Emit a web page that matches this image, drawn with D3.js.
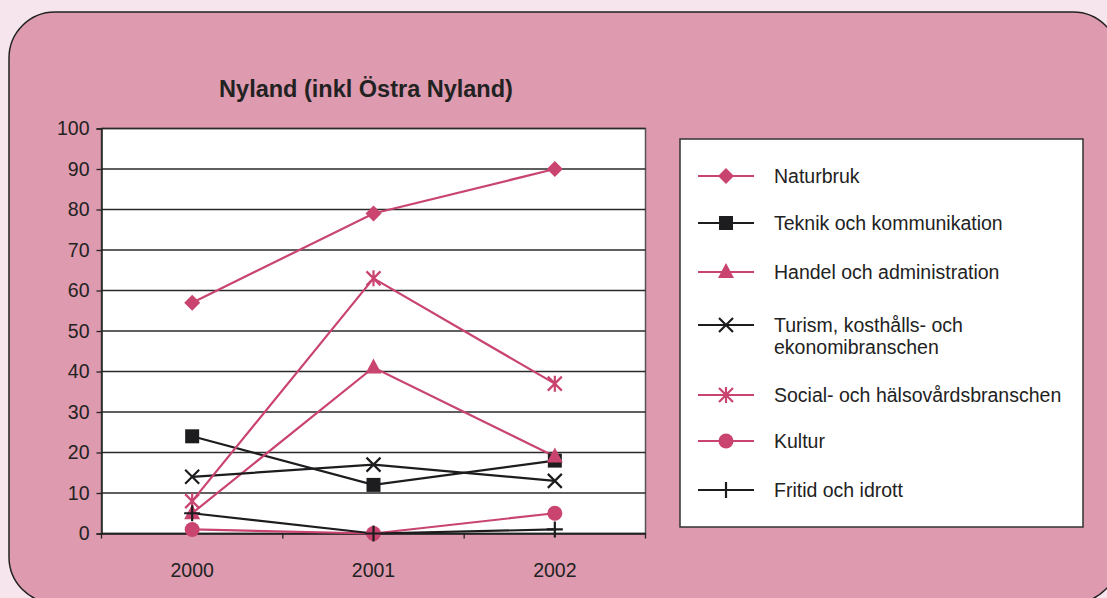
<!DOCTYPE html>
<html><head><meta charset="utf-8">
<script src="https://cdn.jsdelivr.net/npm/d3@7"></script>
<style>html,body{margin:0;padding:0;background:#f6e5ec;}svg{display:block;}</style>
</head><body><svg id="c" width="1107" height="598"></svg>
<script>
const title = "Nyland (inkl Östra Nyland)";
const years = ["2000", "2001", "2002"];
const yTicks = [0,10,20,30,40,50,60,70,80,90,100];
const seriesNames = ["Naturbruk","Teknik och kommunikation","Handel och administration","Turism, kosthålls- och\nekonomibranschen","Social- och hälsovårdsbranschen","Kultur","Fritid och idrott"];
const naturbruk = [57, 79, 90];
const teknik = [24, 12, 18];
const handel = [5, 41, 19];
const turism = [14, 17, 13];
const social = [8, 63, 37];
const kultur = [1, 0, 5];
const fritid = [5, 0, 1];
const PINK = "#c9446f", BLACK = "#1d1d20";
const series = [
  {name: seriesNames[0], values: naturbruk, color: PINK, marker: "diamond"},
  {name: seriesNames[1], values: teknik, color: BLACK, marker: "square"},
  {name: seriesNames[2], values: handel, color: PINK, marker: "triangle"},
  {name: seriesNames[3], values: turism, color: BLACK, marker: "x"},
  {name: seriesNames[4], values: social, color: PINK, marker: "star"},
  {name: seriesNames[5], values: kultur, color: PINK, marker: "circle"},
  {name: seriesNames[6], values: fritid, color: BLACK, marker: "plus"}
];
const svg = d3.select("#c");
const FONT = "'Liberation Sans', Arial, Helvetica, sans-serif";
svg.append("rect").attr("width",1107).attr("height",598).attr("fill","#f6e5ec");
svg.append("rect").attr("x",9).attr("y",12).attr("width",1110).attr("height",591).attr("rx",46).attr("ry",46)
  .attr("fill","#de9aae").attr("stroke","#222").attr("stroke-width",1.5);

const L = 101.5, R = 645.5, T = 128.5, B = 533.5;
const x = d3.scaleBand().domain(years).range([L, R]);
const y = d3.scaleLinear().domain([0,100]).range([B, T]);
svg.append("rect").attr("x",L).attr("y",T).attr("width",R-L).attr("height",B-T).attr("fill","#fff").attr("stroke","#555").attr("stroke-width",1.5);
svg.append("g").selectAll("line").data(yTicks).join("line")
  .attr("x1",L).attr("x2",R).attr("y1",d=>y(d)).attr("y2",d=>y(d)).attr("stroke","#2a2a2a").attr("stroke-width",1.3);
const ya = svg.append("g").attr("transform",`translate(${L},0)`).call(d3.axisLeft(y).tickValues(yTicks).tickSize(5).tickPadding(7));
ya.select(".domain").attr("stroke","#222").attr("stroke-width",1.5);
ya.selectAll(".tick line").attr("stroke","#222").attr("stroke-width",1.3);
ya.selectAll("text").attr("font-family",FONT).attr("font-size",19.5).attr("fill","#222");
const xa = svg.append("g").attr("transform",`translate(0,${B})`).call(d3.axisBottom(x).tickSize(0).tickPadding(30));
xa.select(".domain").attr("stroke","#222").attr("stroke-width",1.5);
xa.selectAll("text").attr("font-family",FONT).attr("font-size",19.5).attr("fill","#222");
const bounds = [L].concat(years.map(d=>x(d)+x.bandwidth()));
svg.append("g").selectAll("line").data(bounds).join("line")
  .attr("x1",d=>d).attr("x2",d=>d).attr("y1",B).attr("y2",B+5).attr("stroke","#222").attr("stroke-width",1.3);

function drawMarker(g, type, cx, cy, color){
  const s = g.append("g").attr("transform",`translate(${cx},${cy})`);
  if(type==="diamond") s.append("path").attr("d","M0,-8L8,0L0,8L-8,0Z").attr("fill",color);
  else if(type==="square") s.append("rect").attr("x",-7).attr("y",-7).attr("width",14).attr("height",14).attr("fill",color);
  else if(type==="triangle") s.append("path").attr("d","M0,-9L8,6L-8,6Z").attr("fill",color);
  else if(type==="circle") s.append("circle").attr("r",7.5).attr("fill",color);
  else if(type==="x") s.append("path").attr("d","M-7,-7L7,7M-7,7L7,-7").attr("stroke",color).attr("stroke-width",2.2).attr("fill","none");
  else if(type==="plus") s.append("path").attr("d","M-8,0L8,0M0,-8L0,8").attr("stroke",color).attr("stroke-width",2.2).attr("fill","none");
  else if(type==="star") s.append("path").attr("d","M-7,-7L7,7M-7,7L7,-7M0,-8L0,8").attr("stroke",color).attr("stroke-width",2.2).attr("fill","none");
}
const line = d3.line().x((d,i)=>x(years[i])+x.bandwidth()/2).y(d=>y(d));
const plot = svg.append("g");
series.forEach(s=>{
  plot.append("path").attr("d",line(s.values)).attr("fill","none").attr("stroke",s.color).attr("stroke-width",2.2);
});
series.forEach(s=>{
  s.values.forEach((v,i)=>drawMarker(plot, s.marker, x(years[i])+x.bandwidth()/2, y(v), s.color));
});
svg.append("text").attr("x",366).attr("y",97).attr("text-anchor","middle").attr("font-family",FONT)
  .attr("font-weight","bold").attr("font-size",23.5).attr("fill","#222").text(title);
const lg = svg.append("g");
lg.append("rect").attr("x",680).attr("y",139).attr("width",403).attr("height",388).attr("fill","#fff").attr("stroke","#333").attr("stroke-width",1.5);
const rowsY = [176, 223, 272, 325, 395, 441, 490];
series.forEach((s,i)=>{
  const yy = rowsY[i];
  lg.append("line").attr("x1",698).attr("x2",754).attr("y1",yy).attr("y2",yy).attr("stroke",s.color).attr("stroke-width",2.2);
  drawMarker(lg, s.marker, 726, yy, s.color);
  const lines = s.name.split("\n");
  const t = lg.append("text").attr("font-family",FONT).attr("font-size",19.5).attr("fill","#222");
  lines.forEach((ln,j)=>t.append("tspan").attr("x",774).attr("y",yy+7+j*22).text(ln));
});
</script></body></html>
